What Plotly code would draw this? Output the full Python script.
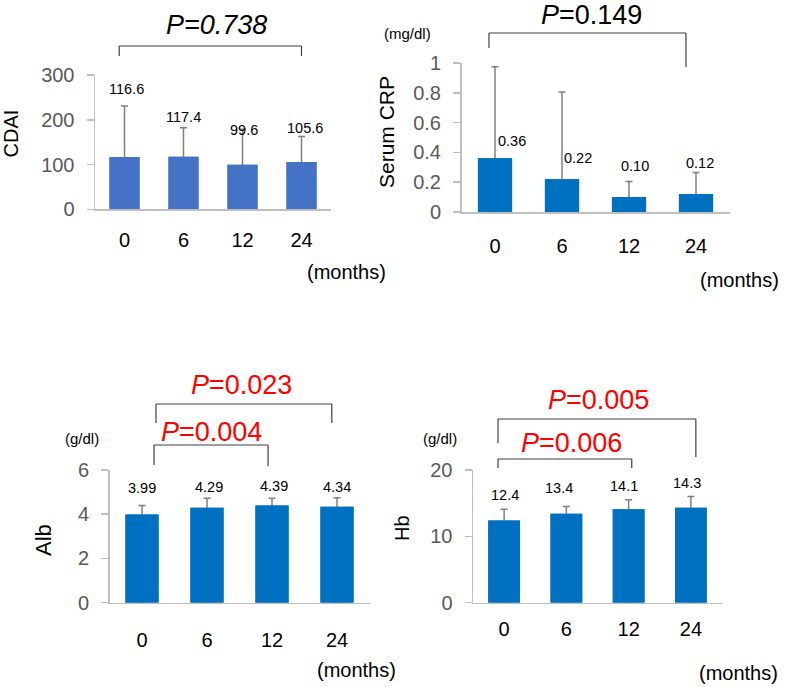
import plotly.graph_objects as go

# ---------------- data ----------------
months = ["0", "6", "12", "24"]

cdai_mean = [116.6, 117.4, 99.6, 105.6]
cdai_sd = [114, 65, 79, 57]
cdai_text = ["116.6", "117.4", "99.6", "105.6"]

crp_mean = [0.36, 0.22, 0.10, 0.12]
crp_sd = [0.615, 0.585, 0.105, 0.145]
crp_text = ["0.36", "0.22", "0.10", "0.12"]

alb_mean = [3.99, 4.29, 4.39, 4.34]
alb_sd = [0.40, 0.43, 0.33, 0.41]
alb_text = ["3.99", "4.29", "4.39", "4.34"]

hb_mean = [12.4, 13.4, 14.1, 14.3]
hb_sd = [1.7, 1.1, 1.4, 1.7]
hb_text = ["12.4", "13.4", "14.1", "14.3"]

# ---------------- layout helpers ----------------
W, H = 787, 687
FONT = "Arial, 'Liberation Sans', sans-serif"


def px(x):
    return x / W


def py(y):
    return 1 - y / H


panels = [
    dict(mean=cdai_mean, sd=cdai_sd, text=cdai_text, color="#4472C4",
         xdom=(95, 331), ydom=(209.3, 75), yrange=[0, 300], dtick=100,
         label_y=[268.7, 206, 177, 181.6], label_dx=[2, 0, 1, 3],
         xstand=12, title="CDAI", title_xy=(10.5, 134), title_size=20,
         unit=None, months_xy=(346, 272)),
    dict(mean=crp_mean, sd=crp_sd, text=crp_text, color="#0070C0",
         xdom=(461.5, 729.5), ydom=(212, 63), yrange=[0, 1], dtick=0.2,
         label_y=[0.477, 0.362, 0.309, 0.329], label_dx=[17, 16, 6, 4],
         xstand=15, title="Serum CRP", title_xy=(386, 132), title_size=21,
         unit=("(mg/dl)", 407, 33), months_xy=(739, 280)),
    dict(mean=alb_mean, sd=alb_sd, text=alb_text, color="#0070C0",
         xdom=(109.5, 369.5), ydom=(602.7, 470), yrange=[0, 6], dtick=2,
         label_y=[5.19, 5.24, 5.28, 5.24], label_dx=[0, 2, 2, 0],
         xstand=19, title="Alb", title_xy=(43, 540), title_size=22,
         unit=("(g/dl)", 82, 438), months_xy=(356, 670)),
    dict(mean=hb_mean, sd=hb_sd, text=hb_text, color="#0070C0",
         xdom=(473, 722), ydom=(602.7, 470), yrange=[0, 20], dtick=10,
         label_y=[16.2, 17.3, 17.6, 18.05], label_dx=[1, -7, -5, -4],
         xstand=8, title="Hb", title_xy=(402, 528), title_size=20,
         unit=("(g/dl)", 440, 438), months_xy=(738, 673)),
]

# brackets: (panel index, x_left, x_right (category units), top_y, left_bottom_y, right_bottom_y (px))
brackets = [
    (0, -0.09, 3.0, 46, 56, 56),
    (1, -0.09, 2.85, 33, 48, 67),
    (2, 0.215, 2.92, 404, 423, 423),
    (2, 0.185, 1.94, 445, 465, 466),
    (3, -0.098, 3.08, 419, 443, 457),
    (3, -0.098, 2.05, 459, 468, 468),
]

# p-value labels: (text, x_center px, y_center px, color)
pvals = [
    ("<i>P=0.738</i>", 216, 25, "black"),
    ("<i>P</i>=0.149", 591, 15, "black"),
    ("<i>P</i>=0.023", 242, 385, "red"),
    ("<i>P</i>=0.004", 212, 432, "red"),
    ("<i>P</i>=0.005", 598, 400, "red"),
    ("<i>P</i>=0.006", 571, 443, "red"),
]

fig = go.Figure()
annotations = []
shapes = []
layout = dict(
    width=W, height=H, margin=dict(l=0, r=0, t=0, b=0, autoexpand=False),
    paper_bgcolor="white", plot_bgcolor="white",
    showlegend=False, barmode="overlay", bargap=0.49,
    font=dict(family=FONT, color="black"),
)

for i, p in enumerate(panels):
    n = "" if i == 0 else str(i + 1)
    xa, ya = "x" + n, "y" + n
    # bar carrying the error bar (upper whisker; lower part hidden by the next bar)
    fig.add_trace(go.Bar(
        x=months, y=p["mean"], xaxis=xa, yaxis=ya,
        marker=dict(color=p["color"], line=dict(width=0)),
        error_y=dict(type="data", symmetric=False, array=p["sd"],
                     arrayminus=p["mean"], color="#808080",
                     thickness=1.5, width=3.5),
        hoverinfo="skip",
    ))
    fig.add_trace(go.Bar(
        x=months, y=p["mean"], xaxis=xa, yaxis=ya,
        marker=dict(color=p["color"], line=dict(width=0)),
        hoverinfo="skip",
    ))
    layout["xaxis" + n] = dict(
        domain=[px(p["xdom"][0]), px(p["xdom"][1])], anchor=ya,
        type="category", range=[-0.5, 3.5], automargin=False,
        showline=True, linecolor="#bfbfbf", linewidth=1.5,
        ticks="", showgrid=False, zeroline=False,
        tickfont=dict(size=20, color="black", family=FONT),
        ticklabelstandoff=p["xstand"], fixedrange=True,
    )
    layout["yaxis" + n] = dict(
        domain=[py(p["ydom"][0]), py(p["ydom"][1])], anchor=xa,
        range=p["yrange"], dtick=p["dtick"], tick0=0, automargin=False,
        showline=True, linecolor="#bfbfbf", linewidth=1.5,
        ticks="outside", ticklen=7, tickcolor="#bfbfbf", tickwidth=1.5,
        showgrid=False, zeroline=False,
        tickfont=dict(size=20, color="#595959", family=FONT),
        ticklabelstandoff=8, fixedrange=True,
    )
    # value labels
    for k in range(len(months)):
        annotations.append(dict(
            x=k, y=p["label_y"][k], xref=xa, yref=ya, xshift=p["label_dx"][k],
            text=p["text"][k], showarrow=False,
            font=dict(size=14.5, color="black", family=FONT),
            xanchor="center", yanchor="middle",
        ))
    # y-axis title
    annotations.append(dict(
        x=px(p["title_xy"][0]), y=py(p["title_xy"][1]), xref="paper", yref="paper",
        text=p["title"], textangle=-90, showarrow=False,
        font=dict(size=p["title_size"], color="black", family=FONT),
        xanchor="center", yanchor="middle",
    ))
    if p["unit"]:
        annotations.append(dict(
            x=px(p["unit"][1]), y=py(p["unit"][2]), xref="paper", yref="paper",
            text=p["unit"][0], showarrow=False,
            font=dict(size=15, color="black", family=FONT),
            xanchor="center", yanchor="middle",
        ))
    annotations.append(dict(
        x=px(p["months_xy"][0]), y=py(p["months_xy"][1]), xref="paper", yref="paper",
        text="(months)", showarrow=False,
        font=dict(size=20, color="black", family=FONT),
        xanchor="center", yanchor="middle",
    ))

for (pi, xl, xr, ytop, ybl, ybr) in brackets:
    n = "" if pi == 0 else str(pi + 1)
    xa = "x" + n
    line = dict(color="#404040", width=1.2)
    shapes.append(dict(type="line", xref=xa, yref="paper", x0=xl, x1=xr,
                       y0=py(ytop), y1=py(ytop), line=line))
    shapes.append(dict(type="line", xref=xa, yref="paper", x0=xl, x1=xl,
                       y0=py(ytop), y1=py(ybl), line=line))
    shapes.append(dict(type="line", xref=xa, yref="paper", x0=xr, x1=xr,
                       y0=py(ytop), y1=py(ybr), line=line))

for (t, x, y, c) in pvals:
    annotations.append(dict(
        x=px(x), y=py(y), xref="paper", yref="paper", text=t, showarrow=False,
        font=dict(size=27, color=c, family=FONT),
        xanchor="center", yanchor="middle",
    ))

layout["annotations"] = annotations
layout["shapes"] = shapes
fig.update_layout(**layout)

fig.write_html(
    "out.html",
    config={"displayModeBar": False, "staticPlot": True},
    post_script="document.body.style.margin='0';document.body.style.overflow='hidden';",
)
